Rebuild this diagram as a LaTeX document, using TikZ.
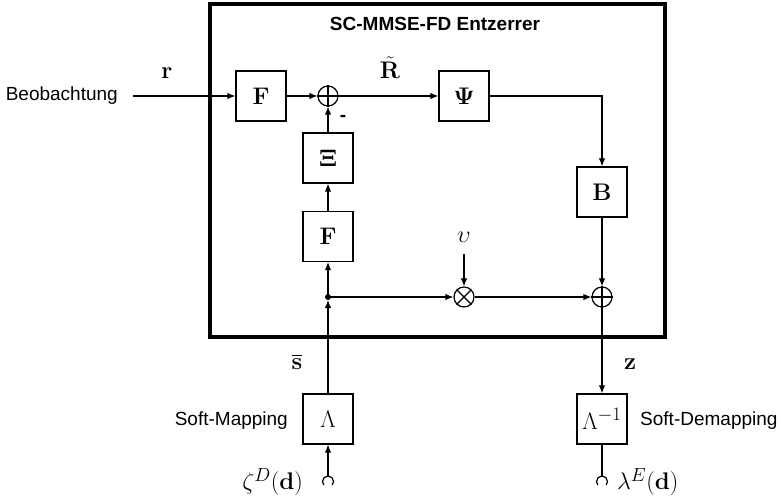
\documentclass[tikz,border=0pt]{standalone}
\usepackage{fix-cm}
\usepackage{amsmath}
\usepackage[no-math]{fontspec}
\newfontfamily\arialfam{Liberation Sans}
\usetikzlibrary{arrows.meta}
\DeclareMathSizes{24}{24}{19}{15}
\newcommand{\mysize}{\fontsize{24}{28}\selectfont}
\newcommand{\txtfont}{\arialfam\fontsize{19}{22}\selectfont}
\begin{document}
\begin{tikzpicture}[x=1pt,y=1pt,font=\mysize,
  blk/.style={draw, line width=1.2pt, minimum size=50pt, inner sep=0pt},
  sumc/.style={draw, circle, line width=1.2pt, minimum size=20pt, inner sep=0pt},
  conn/.style={line width=1.2pt},
  arr/.style={conn, -{Latex[length=8pt,width=6.5pt]}},
  txt/.style={font=\txtfont, inner sep=0pt}]
\useasboundingbox (0,0) rectangle (781,-497);
% outer box
\node[draw, line width=3.5pt, minimum width=455pt, minimum height=333pt, inner sep=0pt] (eq) at (437.5,-170.5) {};
\node[font=\txtfont\bfseries, inner sep=0pt] (title) at (435,-24) {SC-MMSE-FD Entzerrer};
% blocks
\node[blk] (F1) at (261,-96) {$\mathbf{F}$};
\node[sumc] (s1) at (328,-96) {};
\draw[conn] (s1.north) -- (s1.south) (s1.west) -- (s1.east);
\node[blk] (Psi) at (464,-96) {$\mathbf{\Psi}$};
\node[blk] (Xi) at (328,-158) {$\mathbf{\Xi}$};
\node[blk] (F2) at (328,-236.5) {$\mathbf{F}$};
\node[blk] (B) at (602,-192) {$\mathbf{B}$};
\coordinate (dot) at (328,-297);
\fill (dot) circle (3);
\node[sumc] (m) at (464,-297) {};
\draw[conn] (m.north west) -- (m.south east) (m.north east) -- (m.south west);
\node[sumc] (s2) at (602,-297) {};
\draw[conn] (s2.north) -- (s2.south) (s2.west) -- (s2.east);
\node[blk] (L) at (328,-419) {$\Lambda$};
\node[blk] (Li) at (602,-419) {$\Lambda^{-1}$};
% terminals
\coordinate (t1) at (328,-476);
\coordinate (t2) at (602,-476);
\draw[conn] (t1) arc[start angle=90,end angle=220,radius=5.5] (t1) arc[start angle=90,end angle=-40,radius=5.5];
\draw[conn] (t2) arc[start angle=90,end angle=220,radius=5.5] (t2) arc[start angle=90,end angle=-40,radius=5.5];
% labels
\coordinate (inp) at (133,-96);
\node[txt, anchor=east] (beo) at (118,-96) {Beobachtung};
\node (r) at (167,-73) {$\mathbf{r}$};
\node (Rt) at (390,-68) {$\tilde{\mathbf{R}}$};
\node[font=\txtfont\bfseries, inner sep=0pt] (minus) at (343,-118) {-};
\node (v) at (464,-237) {$\upsilon$};
\coordinate (vtop) at (464,-254);
\node (sb) at (297,-362) {$\overline{\mathbf{s}}$};
\node (z) at (630,-364) {$\mathbf{z}$};
\node[txt, anchor=east] (sm) at (288,-421) {Soft-Mapping};
\node[txt, anchor=west] (sdm) at (640,-421) {Soft-Demapping};
\node[anchor=east, inner sep=0pt] (zeta) at (303,-482) {$\zeta^D(\mathbf{d})$};
\node[anchor=west, inner sep=0pt] (lam) at (617,-482) {$\lambda^E(\mathbf{d})$};
% connectors
\draw[arr] (inp) -- (F1);
\draw[arr] (F1) -- (s1);
\draw[arr] (s1) -- (Psi);
\draw[arr] (Psi.east) -| (B.north);
\draw[arr] (B) -- (s2);
\draw[arr] (s2) -- (Li);
\draw[arr] (Xi) -- (s1);
\draw[arr] (F2) -- (Xi);
\draw[arr] (dot) -- (F2);
\draw[arr] (L.north) -- ([yshift=-3pt]dot);
\draw[arr] (dot) -- (m);
\draw[arr] (m) -- (s2);
\draw[arr] (vtop) -- (m);
\draw[arr] (t1) -- (L);
\draw[conn] (Li) -- (t2);
\end{tikzpicture}
\end{document}
